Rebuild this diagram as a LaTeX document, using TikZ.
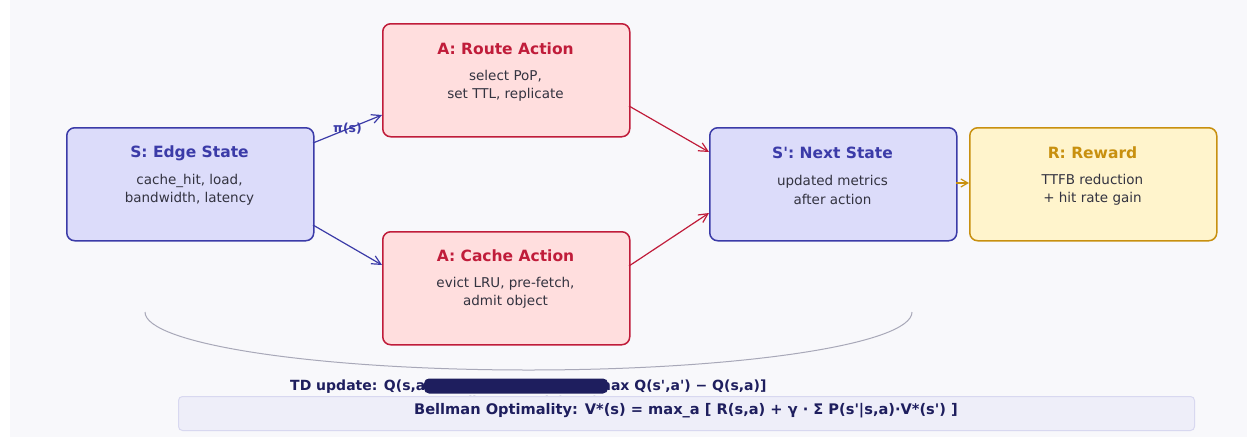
\documentclass[tikz,border=0pt]{standalone}
\usepackage{fontspec}
\setmainfont{DejaVu Sans}[Ligatures=TeXOff]
\usetikzlibrary{arrows.meta}
\definecolor{bg}{HTML}{F8F8FB}
\definecolor{sfill}{HTML}{DCDCFA}
\definecolor{sline}{HTML}{3B3BA8}
\definecolor{afill}{HTML}{FFDEDE}
\definecolor{aline}{HTML}{C01C3A}
\definecolor{rfill}{HTML}{FFF4CC}
\definecolor{rline}{HTML}{C8900F}
\definecolor{body}{HTML}{333340}
\definecolor{navy}{HTML}{1E1E5E}
\definecolor{bfill}{HTML}{EEEEF9}
\definecolor{bline}{HTML}{D8D8F0}
\definecolor{arcc}{HTML}{A8A8B8}
\tikzset{
  x=1pt,y=-1pt,
  box/.style={draw,line width=1.5pt,rounded corners=8pt,minimum width=247pt,minimum height=113pt,anchor=north west},
  sbox/.style={box,fill=sfill,draw=sline},
  abox/.style={box,fill=afill,draw=aline},
  rbox/.style={box,fill=rfill,draw=rline},
  ttl/.style={font=\fontsize{15.5}{17}\selectfont\bfseries},
  bdy/.style={font=\fontsize{13.5}{18.5}\selectfont,text=body,align=center},
  arr/.style={line width=1.2pt,-{Straight Barb[length=9pt,width=9pt]}},
}
\begin{document}
\begin{tikzpicture}
\useasboundingbox (0,0) rectangle (1247,437);
\fill[white] (0,0) rectangle (1247,437);
\fill[bg] (10,0) rectangle (1247,437);

% boxes
\node[sbox] (s) at (66,127) {};
\node[abox] (ra) at (382,23) {};
\node[abox] (ca) at (382,231) {};
\node[sbox] (sp) at (709,127) {};
\node[rbox] (r) at (969,127) {};

% titles and bodies
\node[ttl,text=sline] (st) at (189.5,153) {S: Edge State};
\node[bdy] (sb) at (189.5,190) {cache\_hit, load,\\bandwidth, latency};
\node[ttl,text=aline] (rat) at (505.5,49) {A: Route Action};
\node[bdy] (rab) at (505.5,86) {select PoP,\\set TTL, replicate};
\node[ttl,text=aline] (cat) at (505.5,256) {A: Cache Action};
\node[bdy] (cab) at (505.5,293) {evict LRU, pre-fetch,\\admit object};
\node[ttl,text=sline] (spt) at (832.5,153) {S': Next State};
\node[bdy] (spb) at (832.5,190) {updated metrics\\after action};
\node[ttl,text=rline] (rt) at (1092.5,153) {R: Reward};
\node[bdy] (rb) at (1092.5,190) {TTFB reduction\\+ hit rate gain};

% connectors
\coordinate (s1) at (313,143);
\coordinate (ra1) at (382,115);
\coordinate (s2) at (313,225);
\coordinate (ca1) at (382,265);
\coordinate (ra2) at (629,106);
\coordinate (sp1) at (709,152);
\coordinate (ca2) at (629,266);
\coordinate (sp2) at (709,213);
\coordinate (sp3) at (956,183);
\coordinate (r1) at (969,183);
\draw[arr,sline] (s1) -- (ra1) node[pos=0.5,text=sline,font=\fontsize{12.5}{13}\selectfont\bfseries] (pi) {π(s)};
\draw[arr,sline] (s2) -- (ca1);
\draw[arr,aline] (ra2) -- (sp1);
\draw[arr,aline] (ca2) -- (sp2);
\draw[line width=1.2pt,rline,-{Straight Barb[length=7pt,width=8pt]}] (sp3) -- (r1);

% arc
\coordinate (arcL) at (145,312);
\draw[arcc,line width=1pt] (arcL) arc[start angle=180,end angle=0,x radius=383.5,y radius=58];

% TD update
\node[anchor=west,text=navy,font=\fontsize{14}{15}\selectfont\bfseries,inner sep=0pt] (td) at (290,387) {TD update: Q(s,a) ← Q(s,a) + α [r + γ · max Q(s',a') − Q(s,a)]};
\node[fill=navy,rounded corners=5pt,minimum width=184pt,minimum height=15pt,inner sep=0pt] (qbox) at (516,386) {};
\node[text=navy,font=\fontsize{12}{13}\selectfont\bfseries,inner sep=0pt] (qn) at (517,402) {Q-Policy Network (DQN)};

% Bellman box
\node[fill=bfill,draw=bline,line width=1pt,rounded corners=4pt,minimum width=1016pt,minimum height=34pt,anchor=north west] (bell) at (178,396) {};
\node[text=navy,font=\fontsize{14.6}{15}\selectfont\bfseries] (bt) at (686,411) {Bellman Optimality: V*(s) = max\_a [ R(s,a) + γ · Σ P(s'|s,a)·V*(s') ]};
\end{tikzpicture}
\end{document}
